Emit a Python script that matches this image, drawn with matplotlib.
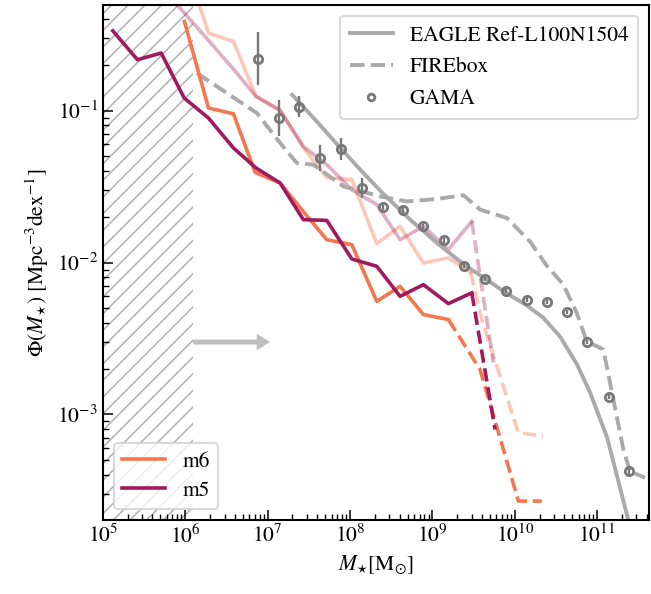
import numpy as np
import matplotlib
matplotlib.use("Agg")
import matplotlib.pyplot as plt

plt.rcParams['font.family'] = ['STIXGeneral', 'DejaVu Serif']
plt.rcParams['mathtext.fontset'] = 'stix'
plt.rcParams['hatch.linewidth'] = 1.1

# ---------------- data (log10 values) ----------------
m5_logM = [5.121, 5.420, 5.708, 5.987, 6.282, 6.585, 6.860, 7.152, 7.434, 7.718, 8.022, 8.325, 8.608, 8.891, 9.194, 9.478]
m5_logPhi = [-0.474, -0.664, -0.620, -0.916, -1.048, -1.245, -1.377, -1.476, -1.717, -1.722, -1.976, -2.024, -2.222, -2.145, -2.270, -2.199]
m5_tail_logM = [9.478, 9.761]
m5_tail_logPhi = [-2.199, -3.099]

m6_logM = [5.990, 6.282, 6.585, 6.848, 7.152, 7.434, 7.718, 8.022, 8.325, 8.608, 8.891, 9.194]
m6_logPhi = [-0.412, -0.982, -1.020, -1.406, -1.476, -1.664, -1.849, -1.882, -2.255, -2.156, -2.342, -2.375]
m6_tail_logM = [9.194, 9.579, 10.044, 10.328]
m6_tail_logPhi = [-2.375, -2.704, -3.570, -3.570]

m5b_logM = [5.708, 5.987, 6.282, 6.585, 6.860, 7.152, 7.434, 7.718, 8.022, 8.325, 8.608, 8.891, 9.194, 9.478]
m5b_logPhi = [-0.184, -0.355, -0.537, -0.726, -0.906, -1.000, -1.235, -1.355, -1.520, -1.618, -1.849, -1.761, -1.914, -1.728]
m5b_tail_logM = [9.478, 9.740]
m5b_tail_logPhi = [-1.728, -2.658]

m6b_logM = [5.990, 6.282, 6.585, 6.860, 7.152, 7.434, 7.718, 8.022, 8.325, 8.608, 8.891, 9.194, 9.465]
m6b_logPhi = [-0.007, -0.489, -0.544, -0.906, -0.993, -1.243, -1.441, -1.454, -1.875, -1.761, -2.002, -1.969, -2.063]
m6b_tail_logM = [9.465, 9.599, 10.044, 10.343]
m6b_tail_logPhi = [-2.063, -2.375, -3.120, -3.142]

eagle_logM = [7.298, 7.589, 7.880, 8.147, 8.402, 8.730, 9.094, 9.385, 9.640, 9.907, 10.150, 10.344, 10.550, 10.756, 10.914, 11.121, 11.376, 11.436]
eagle_logPhi = [-0.895, -1.066, -1.243, -1.401, -1.546, -1.717, -1.888, -2.013, -2.105, -2.204, -2.283, -2.362, -2.487, -2.671, -2.855, -3.151, -3.691, -3.855]

firebox_logM = [6.141, 6.869, 7.152, 7.354, 7.556, 7.920, 8.365, 8.689, 9.053, 9.376, 9.579, 9.903, 10.186, 10.388, 10.590, 10.752, 10.874, 11.075, 11.318, 11.399, 11.581]
firebox_logPhi = [-0.752, -1.015, -1.2125, -1.344, -1.355, -1.498, -1.564, -1.597, -1.581, -1.556, -1.651, -1.706, -1.862, -2.020, -2.145, -2.331, -2.518, -2.572, -3.230, -3.375, -3.416]

gama_logM = [6.888, 7.143, 7.386, 7.637, 7.888, 8.143, 8.398, 8.641, 8.891, 9.142, 9.388, 9.640, 9.891, 10.146, 10.388, 10.638, 10.881, 11.141, 11.387]
gama_logPhi = [-0.660, -1.048, -0.976, -1.311, -1.250, -1.509, -1.634, -1.653, -1.761, -1.851, -2.020, -2.107, -2.184, -2.243, -2.259, -2.324, -2.522, -2.882, -3.373]
gama_logPhi_hi = [-0.482, -0.928, -0.906, -1.224, -1.180, -1.441, -1.614, -1.633, -1.743, -1.835, -2.005, -2.092, -2.170, -2.229, -2.245, -2.310, -2.508, -2.866, -3.350]
gama_logPhi_lo = [-0.829, -1.169, -1.038, -1.399, -1.322, -1.572, -1.655, -1.674, -1.780, -1.868, -2.036, -2.123, -2.199, -2.258, -2.274, -2.339, -2.537, -2.899, -3.397]

resolution_limit = 1.25e6
arrow_end = 1.07e7
arrow_y = 3.0e-3

# ---------------- colours ----------------
c_m6 = '#f4774f'
c_m5 = '#a11a5b'
c_gray = '#aaaaaa'
c_gama = '#787878'

def p(a):
    return 10 ** np.asarray(a)

fig = plt.figure(figsize=(6.51, 5.94), dpi=100)
ax = fig.add_axes([0.158, 0.1246, 0.839, 0.8670])

lw = 2.6
# faded runs
ax.plot(p(m6b_logM), p(m6b_logPhi), color=c_m6, alpha=0.4, lw=lw)
ax.plot(p(m6b_tail_logM), p(m6b_tail_logPhi), color=c_m6, alpha=0.4, lw=lw, ls='--')
ax.plot(p(m5b_logM), p(m5b_logPhi), color=c_m5, alpha=0.35, lw=lw)
ax.plot(p(m5b_tail_logM), p(m5b_tail_logPhi), color=c_m5, alpha=0.35, lw=lw, ls='--')

# comparison
l_eagle, = ax.plot(p(eagle_logM), p(eagle_logPhi), color=c_gray, lw=2.8, label='EAGLE Ref-L100N1504')
l_fire, = ax.plot(p(firebox_logM), p(firebox_logPhi), color=c_gray, lw=2.8, ls='--', label='FIREbox')
gy = p(gama_logPhi)
yerr = [gy - p(gama_logPhi_lo), p(gama_logPhi_hi) - gy]
ax.errorbar(p(gama_logM), gy, yerr=yerr, fmt='none', ecolor=c_gama, elinewidth=1.7, capsize=0)
l_gama, = ax.plot(p(gama_logM), gy, ls='none', marker='o', ms=6, mfc='none', mec=c_gama, mew=2.0, label='GAMA')

# main runs
l_m6, = ax.plot(p(m6_logM), p(m6_logPhi), color=c_m6, lw=lw, label='m6')
ax.plot(p(m6_tail_logM), p(m6_tail_logPhi), color=c_m6, lw=lw, ls='--')
l_m5, = ax.plot(p(m5_logM), p(m5_logPhi), color=c_m5, lw=lw, label='m5')
ax.plot(p(m5_tail_logM), p(m5_tail_logPhi), color=c_m5, lw=lw, ls='--')

ax.set_xscale('log')
ax.set_yscale('log')
ax.set_xlim(1e5, 10 ** 11.63)
ax.set_ylim(2.02e-4, 0.497)

# resolution-limited region
ax.axvspan(1e5, resolution_limit, facecolor='none', edgecolor='#b0b0b0', hatch='//', lw=0, zorder=0)
ax.annotate('', xy=(arrow_end, arrow_y), xytext=(resolution_limit, arrow_y),
            arrowprops=dict(arrowstyle='simple,head_width=1.0,head_length=0.8,tail_width=0.3',
                            color='#bdbdbd', lw=0, mutation_scale=12, shrinkA=0, shrinkB=0))

fs = 15.5
ax.set_xlabel(r'$M_{\star} [\mathrm{M}_{\odot}]$', fontsize=fs)
ax.set_ylabel(r'$\Phi(M_{\star})\ [\mathrm{Mpc}^{-3}\mathrm{dex}^{-1}]$', fontsize=fs)
ax.tick_params(which='both', direction='in', labelsize=fs, top=False, right=False)
ax.tick_params(which='major', length=7, width=1.1)
ax.tick_params(which='minor', length=4, width=1.0)
for s in ax.spines.values():
    s.set_linewidth(1.5)

leg1 = ax.legend(handles=[l_eagle, l_fire, l_gama], loc='upper right', fontsize=fs,
                 labelspacing=0.55, borderaxespad=0.5, markerscale=0.8, borderpad=0.45)
leg1.get_frame().set_linewidth(1.5)
leg1.get_frame().set_edgecolor('#d0d0d0')
ax.add_artist(leg1)
leg2 = ax.legend(handles=[l_m6, l_m5], loc='lower left', fontsize=fs, labelspacing=0.4)
leg2.get_frame().set_linewidth(1.5)
leg2.get_frame().set_edgecolor('#d0d0d0')

fig.savefig('out.png', dpi=100)
